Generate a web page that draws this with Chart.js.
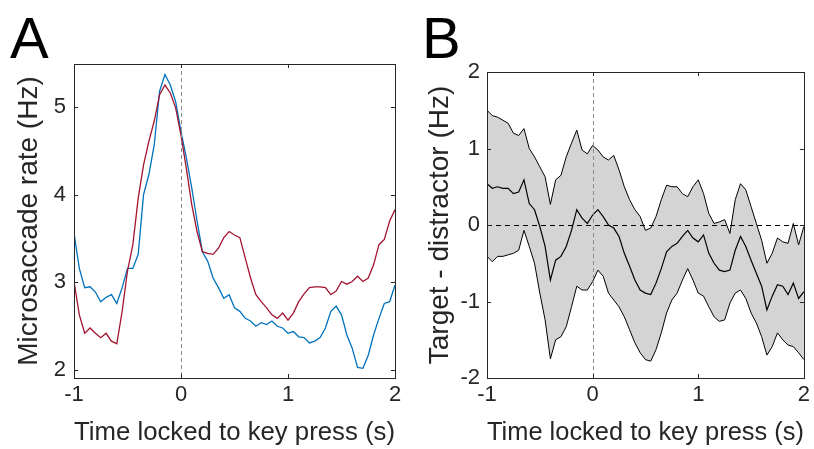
<!DOCTYPE html>
<html>
<head>
<meta charset="utf-8">
<script src="https://cdn.jsdelivr.net/npm/chart.js@4.4.1/dist/chart.umd.min.js"></script>
<style>
  body { margin: 0; background: #fff; }
  #wrap { position: relative; width: 814px; height: 449px; font-family: "Liberation Sans", Arial, sans-serif; }
  canvas { position: absolute; top: 0; }
  .letter { position: absolute; font-size: 58px; line-height: 1; color: #000; }
</style>
</head>
<body>
<div id="wrap">
  <canvas id="chartA" width="410" height="449" style="left:0;width:410px;height:449px"></canvas>
  <canvas id="chartB" width="404" height="449" style="left:410px;width:404px;height:449px"></canvas>
  <div class="letter" style="left:10px;top:9px">A</div>
  <div class="letter" style="left:422px;top:9px">B</div>
</div>
<script>
// time axis (s), shared by both panels
const times = [
  -1.00, -0.95, -0.90, -0.85, -0.80, -0.75, -0.70, -0.65, -0.60, -0.55,
  -0.50, -0.45, -0.40, -0.35, -0.30, -0.25, -0.20, -0.15, -0.10, -0.05,
   0.00,  0.05,  0.10,  0.15,  0.20,  0.25,  0.30,  0.35,  0.40,  0.45,
   0.50,  0.55,  0.60,  0.65,  0.70,  0.75,  0.80,  0.85,  0.90,  0.95,
   1.00,  1.05,  1.10,  1.15,  1.20,  1.25,  1.30,  1.35,  1.40,  1.45,
   1.50,  1.55,  1.60,  1.65,  1.70,  1.75,  1.80,  1.85,  1.90,  1.95,
   2.00
];

// panel A: microsaccade rate (Hz)
const rateBlue = [
  3.56, 3.16, 2.94, 2.95, 2.89, 2.78, 2.83, 2.86, 2.76, 2.94,
  3.16, 3.16, 3.32, 4.00, 4.23, 4.57, 5.18, 5.37, 5.25, 5.06,
  4.72, 4.42, 4.08, 3.70, 3.35, 3.24, 3.05, 2.94, 2.82, 2.86,
  2.71, 2.67, 2.59, 2.56, 2.50, 2.54, 2.52, 2.56, 2.50, 2.48,
  2.42, 2.44, 2.38, 2.37, 2.31, 2.33, 2.37, 2.48, 2.67, 2.73,
  2.63, 2.40, 2.25, 2.03, 2.02, 2.17, 2.40, 2.59, 2.76, 2.78,
  2.97
];
const rateRed = [
  3.01, 2.63, 2.42, 2.48, 2.42, 2.37, 2.42, 2.33, 2.30, 2.67,
  3.13, 3.43, 3.96, 4.34, 4.61, 4.84, 5.14, 5.25, 5.16, 4.99,
  4.68, 4.30, 3.89, 3.58, 3.35, 3.33, 3.32, 3.39, 3.51, 3.58,
  3.54, 3.51, 3.28, 3.05, 2.86, 2.78, 2.71, 2.63, 2.59, 2.65,
  2.57, 2.65, 2.78, 2.87, 2.94, 2.95, 2.95, 2.94, 2.86, 2.90,
  3.01, 2.98, 3.01, 3.07, 3.01, 3.05, 3.20, 3.43, 3.49, 3.70,
  3.83
];

// panel B: target - distractor (Hz), mean and band
const diffMean = [
   0.54,  0.48,  0.50,  0.48,  0.48,  0.41,  0.43,  0.59,  0.28,  0.20,
  -0.02, -0.28, -0.72, -0.46, -0.41, -0.28, -0.07,  0.20,  0.09,  0.02,
   0.13,  0.20,  0.11,  0.00, -0.04, -0.15, -0.37, -0.54, -0.72, -0.85,
  -0.89, -0.91, -0.76, -0.57, -0.35, -0.28, -0.24, -0.15, -0.07, -0.17,
  -0.22, -0.13, -0.37, -0.50, -0.59, -0.61, -0.59, -0.33, -0.15, -0.28,
  -0.46, -0.63, -0.80, -1.11, -0.93, -0.78, -0.80, -0.91, -0.76, -0.96,
  -0.87
];
const diffUpper = [
   1.50,  1.43,  1.41,  1.37,  1.33,  1.20,  1.17,  1.26,  1.00,  0.89,
   0.76,  0.63,  0.27,  0.59,  0.65,  0.89,  1.07,  1.24,  0.98,  0.93,
   1.04,  0.98,  0.89,  0.85,  0.91,  0.72,  0.50,  0.33,  0.20,  0.11,
  -0.07, -0.04,  0.11,  0.33,  0.52,  0.50,  0.50,  0.41,  0.37,  0.50,
   0.59,  0.41,  0.15,  0.02,  0.04,  0.07, -0.11,  0.33,  0.54,  0.46,
   0.24,  0.02, -0.20, -0.50, -0.37, -0.17, -0.22, -0.24,  0.02, -0.26,
  -0.02
];
const diffLower = [
  -0.41, -0.48, -0.41, -0.41, -0.39, -0.37, -0.33, -0.07, -0.28, -0.50,
  -0.89, -1.24, -1.75, -1.50, -1.46, -1.33, -1.07, -0.80, -0.85, -0.85,
  -0.74, -0.59, -0.67, -0.89, -0.98, -1.07, -1.20, -1.37, -1.54, -1.67,
  -1.76, -1.78, -1.63, -1.41, -1.15, -0.98, -0.89, -0.72, -0.57, -0.72,
  -0.89, -0.93, -1.07, -1.20, -1.26, -1.24, -1.02, -0.89, -0.85, -0.96,
  -1.15, -1.28, -1.46, -1.70, -1.59, -1.41, -1.50, -1.57, -1.59, -1.67,
  -1.76
];

const xTicks = [-1, 0, 1, 2];
const yTicksA = [2, 3, 4, 5];
const yTicksB = [-2, -1, 0, 1, 2];

const FONT = "'Liberation Sans', Arial, sans-serif";
const AXIS = "#262626";

const pts = (ys) => ys.map((y, i) => ({ x: times[i], y }));

// MATLAB-ish box with inward ticks and dashed reference lines
const boxPlugin = {
  id: "boxPlugin",
  afterDatasetsDraw(chart, args, opts) {
    const { ctx, chartArea: a, scales: { x, y } } = chart;
    ctx.save();
    ctx.lineWidth = 1;
    if (opts.vline != null) {
      const px = Math.round(x.getPixelForValue(opts.vline)) + 0.5;
      ctx.strokeStyle = "#8c8c8c";
      ctx.setLineDash([4, 3]);
      ctx.beginPath(); ctx.moveTo(px, a.top); ctx.lineTo(px, a.bottom); ctx.stroke();
    }
    if (opts.hline != null) {
      const py = Math.round(y.getPixelForValue(opts.hline)) + 0.5;
      ctx.strokeStyle = "#000";
      ctx.lineWidth = 1.2;
      ctx.setLineDash([5, 4]);
      ctx.beginPath(); ctx.moveTo(a.left, py); ctx.lineTo(a.right, py); ctx.stroke();
    }
    ctx.setLineDash([]);
    ctx.lineWidth = 1;
    ctx.strokeStyle = AXIS;
    ctx.strokeRect(Math.round(a.left) + 0.5, Math.round(a.top) + 0.5,
      Math.round(a.width), Math.round(a.height));
    const tl = 4;
    ctx.beginPath();
    x.ticks.forEach((t) => {
      const px = Math.round(x.getPixelForValue(t.value)) + 0.5;
      ctx.moveTo(px, a.bottom); ctx.lineTo(px, a.bottom - tl);
      ctx.moveTo(px, a.top); ctx.lineTo(px, a.top + tl);
    });
    y.ticks.forEach((t) => {
      const py = Math.round(y.getPixelForValue(t.value)) + 0.5;
      ctx.moveTo(a.left, py); ctx.lineTo(a.left + tl, py);
      ctx.moveTo(a.right, py); ctx.lineTo(a.right - tl, py);
    });
    ctx.stroke();
    ctx.restore();
  },
};

function makeScales(yMin, yMax, yTicks, yTitle, yWidth, titlePad, labelPad) {
  return {
    x: {
      type: "linear",
      min: -1, max: 2,
      afterBuildTicks: (s) => { s.ticks = xTicks.map((v) => ({ value: v })); },
      afterFit: (s) => { s.height = 71; },
      grid: { display: false, drawTicks: false },
      border: { display: false },
      ticks: { color: AXIS, font: { family: FONT, size: 22 }, padding: 4, maxRotation: 0 },
      title: {
        display: true, text: "Time locked to key press (s)", color: AXIS,
        font: { family: FONT, size: 26 }, padding: { top: 0, bottom: 1 },
      },
    },
    y: {
      type: "linear",
      min: yMin, max: yMax,
      afterBuildTicks: (s) => { s.ticks = yTicks.map((v) => ({ value: v })); },
      afterFit: (s) => { s.width = yWidth; },
      grid: { display: false, drawTicks: false },
      border: { display: false },
      ticks: { color: AXIS, font: { family: FONT, size: 22 }, padding: labelPad },
      title: {
        display: true, text: yTitle, color: AXIS,
        font: { family: FONT, size: 28 }, padding: { top: titlePad, bottom: 0 },
      },
    },
  };
}

new Chart(document.getElementById("chartA"), {
  type: "line",
  data: {
    datasets: [
      { data: pts(rateRed), borderColor: "#A2142F", borderWidth: 1.3, pointRadius: 0, fill: false },
      { data: pts(rateBlue), borderColor: "#0072BD", borderWidth: 1.3, pointRadius: 0, fill: false },
    ],
  },
  options: {
    responsive: false,
    animation: false,
    layout: { padding: { top: 64, right: 15, left: 0, bottom: 0 } },
    plugins: { legend: { display: false }, tooltip: { enabled: false }, boxPlugin: { vline: 0 } },
    scales: makeScales(1.91, 5.49, yTicksA, "Microsaccade rate (Hz)", 74, 12, 8),
  },
  plugins: [boxPlugin],
});

new Chart(document.getElementById("chartB"), {
  type: "line",
  data: {
    datasets: [
      { data: pts(diffUpper), borderColor: "#000", borderWidth: 1, pointRadius: 0,
        backgroundColor: "#d4d4d4", fill: "+1" },
      { data: pts(diffLower), borderColor: "#000", borderWidth: 1, pointRadius: 0, fill: false },
      { data: pts(diffMean), borderColor: "#000", borderWidth: 1.2, pointRadius: 0, fill: false },
    ],
  },
  options: {
    responsive: false,
    animation: false,
    layout: { padding: { top: 72, right: 6, left: 0, bottom: 0 } },
    plugins: {
      legend: { display: false }, tooltip: { enabled: false },
      filler: { drawTime: "beforeDatasetsDraw" },
      boxPlugin: { vline: 0, hline: 0 },
    },
    scales: makeScales(-2, 2, yTicksB, "Target - distractor (Hz)", 77, 13, 7),
  },
  plugins: [boxPlugin],
});
</script>
</body>
</html>
